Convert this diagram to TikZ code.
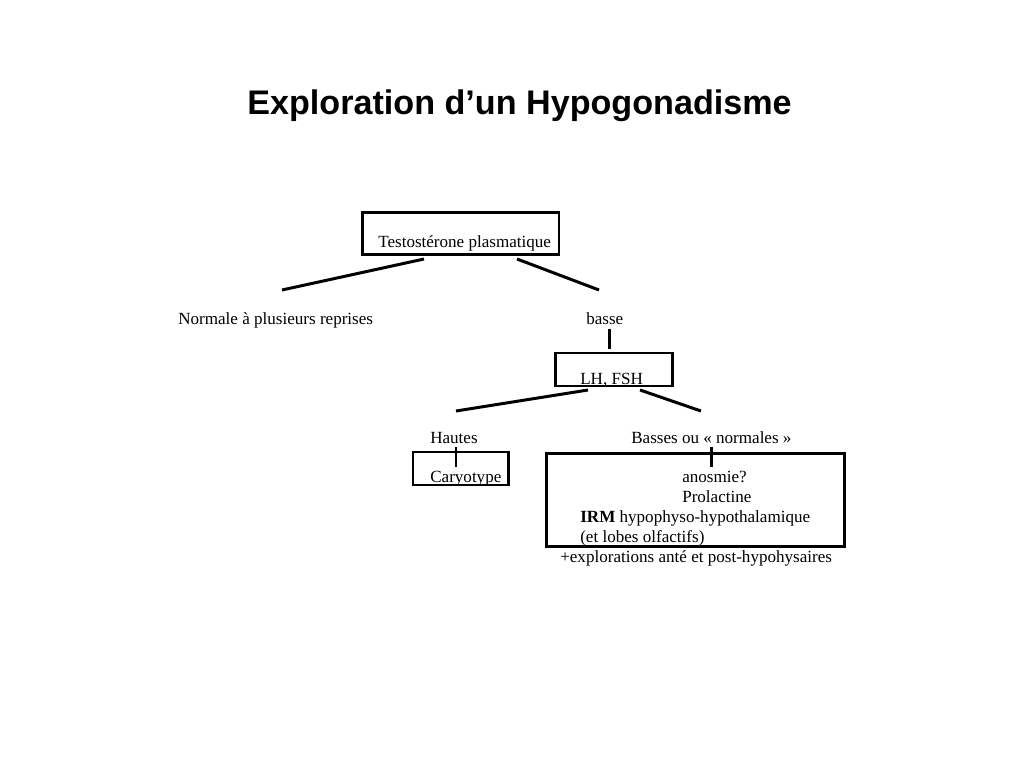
\documentclass[tikz,border=0pt]{standalone}
\usepackage{fontspec}
\setmainfont{Liberation Serif}
\newfontfamily\titlefont{Liberation Sans}
\begin{document}
\begin{tikzpicture}
[x=0.703125pt,y=-0.703125pt,
  boxdecorate/.style={shape=rectangle,draw,line width=2.1pt,inner sep=0pt},%
  textdecorate/.style={anchor=base west,inner sep=0pt,font=\fontsize{12}{14}\selectfont},%
  linedecorate/.style={-,line width=2.1pt}]
\useasboundingbox (0,0) rectangle (1024,768);
% title
\node (title) at (519.5,115) [anchor=base,inner sep=0pt,font=\titlefont\bfseries\fontsize{24}{28}\selectfont] {Exploration d’un Hypogonadisme};
% boxes
\node (testo) at (460.5,233.5) [boxdecorate,minimum width=138.5pt,minimum height=30.2pt] {};
\node (lhfsh) at (614,369.5) [boxdecorate,minimum width=81.6pt,minimum height=23.2pt] {};
\node (caryo) at (460.5,468.5) [boxdecorate,minimum width=66.8pt,minimum height=23.2pt] {};
\node (bilan) at (695.5,500) [boxdecorate,minimum width=210.2pt,minimum height=64.7pt] {};
% texts
\node (testotext) at (378,248) [textdecorate] {Testostérone plasmatique};
\node (normale) at (178,324.5) [textdecorate] {Normale à plusieurs reprises};
\node (basse) at (586,324.5) [textdecorate] {basse};
\node (lhfshtext) at (580,384.5) [textdecorate] {LH, FSH};
\node (hautes) at (430,443.5) [textdecorate] {Hautes};
\node (basses) at (631,443.5) [textdecorate] {Basses ou « normales »};
\node (caryotext) at (430,482.5) [textdecorate] {Caryotype};
\node (anosmie) at (682,482.5) [textdecorate] {anosmie?};
\node (prolactine) at (682,502.5) [textdecorate] {Prolactine};
\node (irm) at (580,522.5) [textdecorate] {\textbf{IRM} hypophyso-hypothalamique};
\node (lobes) at (580,542.5) [textdecorate] {(et lobes olfactifs)};
\node (explo) at (560,562.5) [textdecorate] {+explorations anté et post-hypohysaires};
% free ends of the lines
\coordinate (testoL) at (424,259);
\coordinate (normaleT) at (282,290);
\coordinate (testoR) at (517,259);
\coordinate (basseT) at (599,290);
\coordinate (basseB) at (609,329);
\coordinate (lhfshT) at (609,349);
\coordinate (lhfshL) at (588,390);
\coordinate (hautesT) at (456,411);
\coordinate (lhfshR) at (640,390);
\coordinate (bassesT) at (701,411);
\coordinate (hautesB) at (456,447);
\coordinate (caryoT) at (456,467);
\coordinate (bassesB) at (711,447);
\coordinate (bilanT) at (711,467);
% edges or lines
\path
(testoL) edge[linedecorate] (normaleT)
(testoR) edge[linedecorate] (basseT)
(basseB) edge[linedecorate] (lhfshT)
(lhfshL) edge[linedecorate] (hautesT)
(lhfshR) edge[linedecorate] (bassesT)
(hautesB) edge[linedecorate] (caryoT)
(bassesB) edge[linedecorate] (bilanT);
\end{tikzpicture}
\end{document}
